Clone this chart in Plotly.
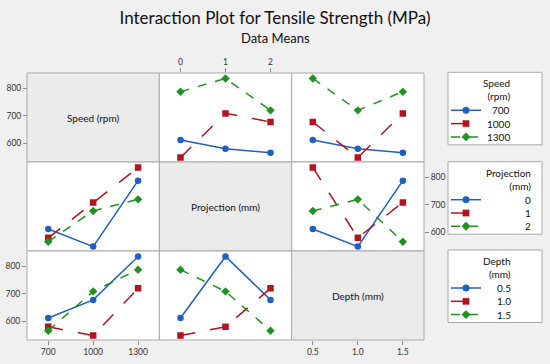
import plotly.graph_objects as go
import pandas as pd

# ---- data (9 runs, L9 design) ----
speed = [700, 700, 700, 1000, 1000, 1000, 1300, 1300, 1300]
projection = [0, 1, 2, 0, 1, 2, 0, 1, 2]
depth = [0.5, 1.0, 1.5, 1.0, 1.5, 0.5, 1.5, 0.5, 1.0]
strength = [612, 580, 566, 548, 709, 678, 788, 836, 720]

factors = ["Speed", "Projection", "Depth"]
factor_labels = ["Speed (rpm)", "Projection (mm)", "Depth (mm)"]
legend_titles = ["Speed<br>(rpm)", "Projection<br>(mm)", "Depth<br>(mm)"]
levels = {"Speed": [700, 1000, 1300], "Projection": [0, 1, 2], "Depth": [0.5, 1.0, 1.5]}
level_text = {"Speed": ["700", "1000", "1300"], "Projection": ["0", "1", "2"],
              "Depth": ["0.5", "1.0", "1.5"]}

df = pd.DataFrame({"Speed": speed, "Projection": projection, "Depth": depth, "y": strength})

colors = ["#1f5fbf", "#b3121e", "#1f931f"]
symbols = ["circle", "square", "diamond"]
dashes = ["solid", "longdash", "dash"]

xranges = {"Speed": [558, 1442], "Projection": [-0.47, 2.47], "Depth": [0.265, 1.735]}
yrange = [532, 856]

# figure geometry (px)
W, H = 550, 364
ML, MR, MT, MB = 27, 126, 73, 24
PW, PH = W - ML - MR, H - MT - MB


def px_x(px):
    return (px - ML) / PW


def px_y(py):
    return (H - MB - py) / PH


fig = go.Figure()
layout = {}
shapes = []
annotations = []


def xd(c):
    return [c / 3, (c + 1) / 3]


def yd(r):
    return [1 - (r + 1) / 3, 1 - r / 3]


tickfont = dict(size=8.5, color="#333333")
k = 0
for r in range(3):
    for c in range(3):
        shapes.append(dict(type="rect", xref="paper", yref="paper",
                           x0=xd(c)[0], x1=xd(c)[1], y0=yd(r)[0], y1=yd(r)[1],
                           line=dict(color="#a9a9a9", width=1),
                           fillcolor="#ebebeb" if r == c else "white", layer="below"))
        if r == c:
            annotations.append(dict(text=factor_labels[r], x=sum(xd(c)) / 2, y=sum(yd(r)) / 2,
                                    xref="paper", yref="paper", showarrow=False,
                                    xanchor="center", yanchor="middle",
                                    font=dict(size=10, color="#111111")))
            continue
        k += 1
        xa = "xaxis" if k == 1 else f"xaxis{k}"
        ya = "yaxis" if k == 1 else f"yaxis{k}"
        xs = "x" if k == 1 else f"x{k}"
        ys = "y" if k == 1 else f"y{k}"
        fr, fc = factors[r], factors[c]
        xcfg = dict(domain=xd(c), range=xranges[fc], anchor=ys, showgrid=False,
                    zeroline=False, showline=False, showticklabels=False, ticks="")
        ycfg = dict(domain=yd(r), range=yrange, anchor=xs, showgrid=False,
                    zeroline=False, showline=False, showticklabels=False, ticks="")
        if (fc == "Speed" and r == 2) or (fc == "Depth" and r == 1) or (fc == "Projection" and r == 0):
            xcfg.update(showticklabels=True, ticks="outside", ticklen=4, tickcolor="#8a8a8a",
                        tickvals=levels[fc], ticktext=level_text[fc], tickfont=tickfont)
            if fc == "Projection":
                xcfg.update(side="top")
            if fc == "Depth":
                xcfg.update(anchor="free", position=0)
        if (r == 0 and c == 1) or (r == 2 and c == 0) or (r == 1 and c == 2):
            ycfg.update(showticklabels=True, ticks="outside", ticklen=4, tickcolor="#8a8a8a",
                        tickvals=[600, 700, 800], tickfont=tickfont)
            if r == 0:
                ycfg.update(anchor="free", position=0)
            if r == 1:
                ycfg.update(side="right")
        layout[xa] = xcfg
        layout[ya] = ycfg
        means = df.groupby([fr, fc])["y"].mean()
        for i, lv in enumerate(levels[fr]):
            xv = levels[fc]
            yv = [means.loc[(lv, x)] for x in xv]
            fig.add_trace(go.Scatter(
                x=xv, y=yv, xaxis=xs, yaxis=ys, mode="lines+markers",
                name=f"{fr} {level_text[fr][i]}", showlegend=False,
                line=dict(color=colors[i], dash=dashes[i], width=1.5),
                marker=dict(color=colors[i], symbol=symbols[i], size=6.5)))

# ---- legend boxes (drawn as layout shapes/annotations) ----
legend_tops = [72.3, 161.7, 250.0]
legend_text_right = [512, 532.5, 513]
box_x0, box_x1 = 448, 542
for r in range(3):
    top = legend_tops[r]
    shapes.append(dict(type="rect", xref="paper", yref="paper",
                       x0=px_x(box_x0), x1=px_x(box_x1), y0=px_y(top + 72.5), y1=px_y(top),
                       line=dict(color="#a9a9a9", width=1), fillcolor="white"))
    annotations.append(dict(text=legend_titles[r], x=px_x(legend_text_right[r]), y=px_y(top + 17.5),
                            xref="paper", yref="paper", showarrow=False, xanchor="right",
                            yanchor="middle", align="right", font=dict(size=10, color="#111111")))
    for i in range(3):
        yy = top + 38 + 13.3 * i
        shapes.append(dict(type="line", xref="paper", yref="paper",
                           x0=px_x(451), x1=px_x(481), y0=px_y(yy), y1=px_y(yy),
                           line=dict(color=colors[i], width=1.5, dash=dashes[i])))
        mk = dict(xref="paper", yref="paper", xsizemode="pixel", ysizemode="pixel",
                  xanchor=px_x(466), yanchor=px_y(yy), fillcolor=colors[i],
                  line=dict(color=colors[i], width=0.5))
        if symbols[i] == "circle":
            mk.update(type="circle", x0=-3.3, x1=3.3, y0=-3.3, y1=3.3)
        elif symbols[i] == "square":
            mk.update(type="rect", x0=-3.1, x1=3.1, y0=-3.1, y1=3.1)
        else:
            mk.update(type="path", path="M0,4.2 L4.2,0 L0,-4.2 L-4.2,0 Z")
        shapes.append(mk)
        annotations.append(dict(text=level_text[factors[r]][i], x=px_x(legend_text_right[r]),
                                y=px_y(yy), xref="paper", yref="paper", showarrow=False,
                                xanchor="right", yanchor="middle",
                                font=dict(size=10, color="#111111")))

annotations.append(dict(text="Data Means", x=px_x(275), y=px_y(38),
                        xref="paper", yref="paper", showarrow=False,
                        xanchor="center", yanchor="middle",
                        font=dict(size=13, color="#111111")))

fig.update_layout(
    width=W, height=H,
    margin=dict(l=ML, r=MR, t=MT, b=MB, autoexpand=False),
    paper_bgcolor="#f0f0f0", plot_bgcolor="rgba(0,0,0,0)",
    font=dict(family="Lato, Noto Sans, sans-serif"),
    showlegend=False,
    title=dict(text="Interaction Plot for Tensile Strength (MPa)", x=0.5, xref="container",
               xanchor="center", y=1 - 18 / H, yanchor="middle",
               font=dict(size=17, color="#111111")),
    shapes=shapes, annotations=annotations,
    **layout)

fig.write_html("out.html", config={"displayModeBar": False},
               post_script="document.body.style.margin='0px';")
